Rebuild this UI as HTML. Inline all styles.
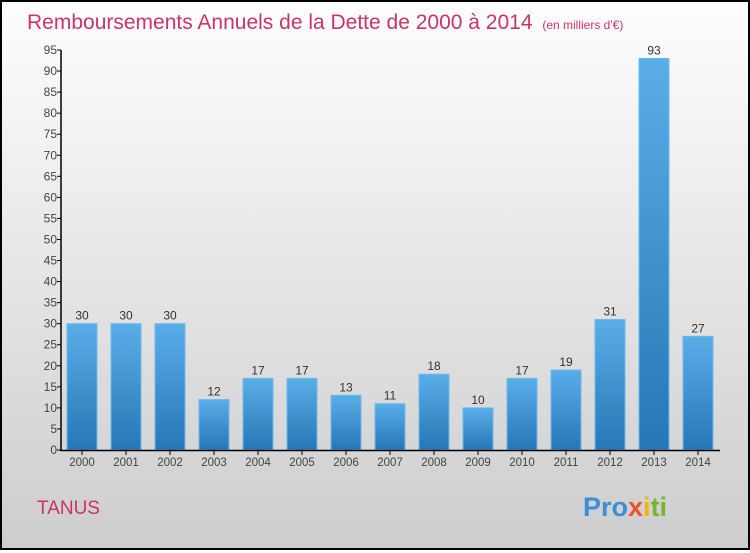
<!DOCTYPE html>
<html><head><meta charset="utf-8"><style>
html,body{margin:0;padding:0}
body{width:750px;height:550px;overflow:hidden;font-family:"Liberation Sans",sans-serif}
#frame{position:absolute;left:0;top:0;width:746px;height:546px;border:2px solid #000;background:linear-gradient(#fefefe,#cdcdcd)}
</style></head><body>
<div id="frame">
<svg id="chart" width="746" height="546" viewBox="2 2 746 546">
<defs><linearGradient id="bg" x1="0" y1="0" x2="0" y2="1"><stop offset="0" stop-color="#5aaee8"/><stop offset="1" stop-color="#2677b5"/></linearGradient></defs>
<text x="27" y="29" font-size="21" fill="#cc3366">Remboursements Annuels de la Dette de 2000 à 2014 <tspan font-size="12" dx="4">(en milliers d'€)</tspan></text>
<g id="yaxis"></g><g id="bars"></g><g id="xaxis"></g>
<text x="37" y="514" font-size="19" fill="#cc3366">TANUS</text>
<text x="583" y="516" font-size="27" font-weight="bold"><tspan fill="#3a8fd6">Pro</tspan><tspan fill="#e8542b">x</tspan><tspan fill="#f2b705">i</tspan><tspan fill="#7ab32e">ti</tspan></text>
</svg></div>
<script>
const categories=["2000","2001","2002","2003","2004","2005","2006","2007","2008","2009","2010","2011","2012","2013","2014"];
const values=[30,30,30,12,17,17,13,11,18,10,17,19,31,93,27];
const yTicks=[0,5,10,15,20,25,30,35,40,45,50,55,60,65,70,75,80,85,90,95];
const ns="http://www.w3.org/2000/svg";
const y=v=>450-v*400/95;
const x=i=>82+i*44;
function mk(t,a,p){const e=document.createElementNS(ns,t);for(const k in a)e.setAttribute(k,a[k]);p.appendChild(e);return e;}
const ya=document.getElementById('yaxis'),ba=document.getElementById('bars'),xa=document.getElementById('xaxis');
let l=mk('line',{x1:61,y1:50,x2:61,y2:451,stroke:'#000','stroke-width':1.5},ya);


l=mk('line',{x1:60,y1:450.5,x2:720,y2:450.5,stroke:'#000','stroke-width':1.5},xa);


yTicks.forEach(v=>{
 const tk=mk('line',{x1:57,y1:y(v),x2:61,y2:y(v),stroke:'#000'},ya);
 
 
 const t=mk('text',{x:57,y:y(v)+4,'font-size':12,'text-anchor':'end',fill:'#444'},ya);
 t.textContent=v;
 
 
});
categories.forEach((c,i)=>{
 const v=values[i];
 const r=mk('rect',{x:x(i)-15,y:y(v),width:30,height:450-y(v),fill:'url(#bg)',stroke:'#6cbaf0','stroke-width':1},ba);
 
 
 const t=mk('text',{x:x(i),y:y(v)-4,'font-size':12,'text-anchor':'middle',fill:'#333'},ba);
 t.textContent=v;
 
 
 const tk=mk('line',{x1:x(i),y1:450,x2:x(i),y2:455,stroke:'#000'},xa);
 
 
 const xl=mk('text',{x:x(i),y:466,'font-size':11.5,'text-anchor':'middle',fill:'#444'},xa);
 xl.textContent=c;
 
 
});
</script>
</body></html>
